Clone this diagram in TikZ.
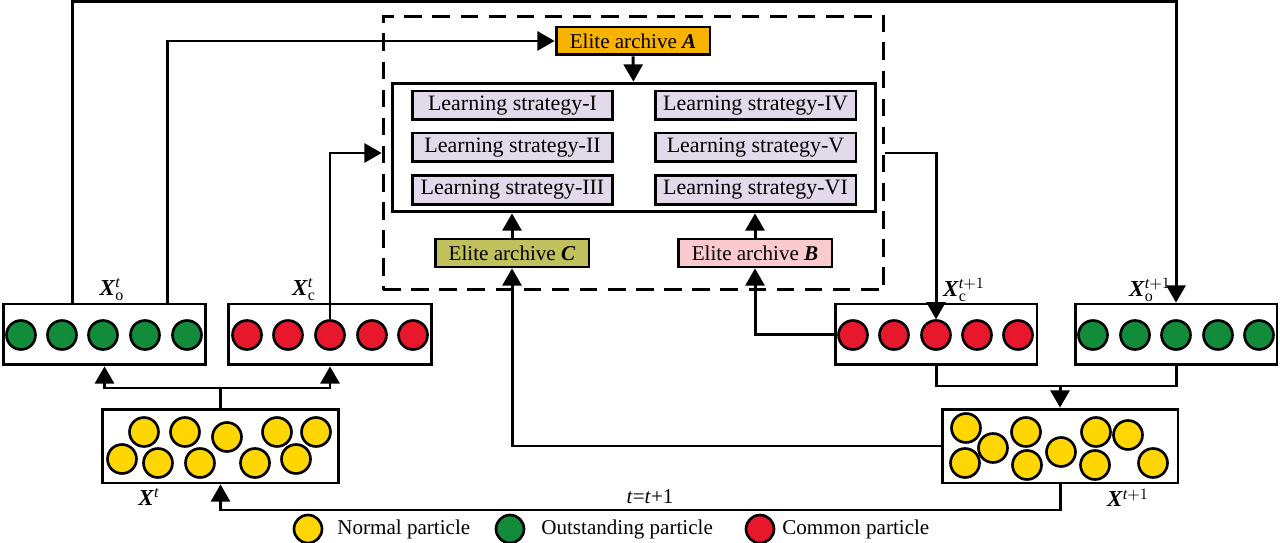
\documentclass[tikz,border=0pt]{standalone}
\usepackage{fontspec}
\setmainfont{Liberation Serif}
\usepackage{amsmath}
\usepackage{tikz}
\usetikzlibrary{arrows}
\definecolor{normal}{RGB}{255,214,0}
\definecolor{outstanding}{RGB}{18,140,58}
\definecolor{common}{RGB}{232,24,44}
\definecolor{archA}{RGB}{248,178,0}
\definecolor{archB}{RGB}{250,202,206}
\definecolor{archC}{RGB}{192,192,92}
\definecolor{strat}{RGB}{226,218,234}

\begin{document}
\begin{tikzpicture}[x=0.02cm, y=-0.02cm, >=triangle 60]
\tikzstyle{every node}=[font=\fontsize{12}{14}\selectfont];
\tikzstyle{every path}=[line width=1.7pt];
\tikzstyle{box}=[draw, fill=white, inner sep=0pt];
\tikzstyle{elite}=[draw, minimum width=3.08cm, minimum height=0.56cm, inner sep=0pt];
\tikzstyle{strat}=[draw, fill=strat, minimum width=4.02cm, minimum height=0.58cm, inner sep=0pt, font=\fontsize{12.5}{14}\selectfont];
\tikzstyle{ball}=[draw, circle, minimum size=0.58cm, inner sep=0pt, line width=1.5pt];
\tikzstyle{xlab}=[font=\fontsize{13}{15}\selectfont];
\useasboundingbox (0,0) rectangle (1280,543);
\node[draw, dash pattern=on 10pt off 6pt, minimum width=10.02cm, minimum height=5.48cm] (D) at (633.5,153) {};
\node[elite, fill=archA] (A) at (633,41) {Elite archive \textbf{\textit{A}}};
\node[draw, minimum width=9.68cm, minimum height=2.58cm] (L) at (634,147.5) {};
\node[strat] (L1) at (512.5,105.5) {Learning strategy-I};
\node[strat] (L2) at (512.5,147.5) {Learning strategy-II};
\node[strat] (L3) at (512.5,190) {Learning strategy-III};
\node[strat] (L4) at (755.5,105.5) {Learning strategy-IV};
\node[strat] (L5) at (755.5,147.5) {Learning strategy-V};
\node[strat] (L6) at (755.5,190) {Learning strategy-VI};
\node[elite, fill=archC] (C) at (512,253) {Elite archive \textbf{\textit{C}}};
\node[elite, fill=archB] (B) at (755,253) {Elite archive \textbf{\textit{B}}};
\node[box, minimum width=4.06cm, minimum height=1.22cm] (Xo) at (104.5,334.5) {};
\node[box, minimum width=4.08cm, minimum height=1.22cm] (Xc) at (330,334.5) {};
\node[box, minimum width=4.04cm, minimum height=1.22cm] (Xc1) at (936,334.5) {};
\node[box, minimum width=4.04cm, minimum height=1.22cm] (Xo1) at (1176,334.5) {};
\node[box, minimum width=4.74cm, minimum height=1.48cm] (X) at (220.5,446) {};
\node[box, minimum width=4.72cm, minimum height=1.48cm] (X1) at (1060,446) {};
\foreach \px [count=\i] in {21,62,103,145,187}
  \node[ball, fill=outstanding] (o\i) at (\px,335) {};
\foreach \px [count=\i] in {247,288,330,372,413}
  \node[ball, fill=common] (c\i) at (\px,335) {};
\foreach \px [count=\i] in {853,894,936,977,1018}
  \node[ball, fill=common] (cn\i) at (\px,335) {};
\foreach \px [count=\i] in {1093,1135,1176,1218,1259}
  \node[ball, fill=outstanding] (on\i) at (\px,335) {};
\foreach \px/\py [count=\i] in {144/432,185/432,227/437,277/432,316/432,122/459,158/463,200/463,255/463,296/459}
  \node[ball, fill=normal] (p\i) at (\px,\py) {};
\foreach \px/\py [count=\i] in {966/428,993/448,1026/432,965/463,1027/465,1061/452,1096/432,1128/435,1095/465,1153/463}
  \node[ball, fill=normal] (pn\i) at (\px,\py) {};
\node[xlab] (lo) at (112,290) {\textbf{\textit{X}}$^{\textit{t}}_{\textrm{o}}$};
\node[xlab] (lc) at (304,290) {\textbf{\textit{X}}$^{\textit{t}}_{\textrm{c}}$};
\node[xlab] (lc1) at (964,290) {\textbf{\textit{X}}$^{\textit{t}+1}_{\textrm{c}}$};
\node[xlab] (lo1) at (1150,290) {\textbf{\textit{X}}$^{\textit{t}+1}_{\textrm{o}}$};
\node[xlab] (lx) at (149,497) {\textbf{\textit{X}}$^{\textit{t}}$};
\node[xlab] (lx1) at (1128,498) {\textbf{\textit{X}}$^{\textit{t}+1}$};
\node (lt) at (650,497) {\textit{t}=\textit{t}+1};
\coordinate (top) at (640,2);
\coordinate (J1) at (220.5,388);
\coordinate (J2) at (1060,386);
\coordinate (J3) at (640,510);
\draw[->] ([xshift=-0.65cm]Xo.north) |- (top -| Xo1.north) -- (Xo1.north);
\draw[->] ([xshift=1.27cm]Xo.north) |- (A.west);
\draw[->] (A) -- (L);
\draw[->] (C) -- (C |- L.south);
\draw[->] (B) -- (B |- L.south);
\draw[->] (c3.north) |- (D.west);
\draw[->] (D.east) -| (cn3.north);
\draw[->] (X1.west) -| (C.south);
\draw[->] (Xc1.west) -| (B.south);
\draw (X.north) -- (J1);
\draw[->] (J1) -| (Xo.south);
\draw[->] (J1) -| (Xc.south);
\draw (Xc1.south) |- (J2) -| (Xo1.south);
\draw[->] (J2) -- (X1.north);
\draw[->] (X1.south) |- (J3) -| (X.south);
\node[ball, fill=normal, minimum size=0.56cm] (k1) at (308,529) {};
\node[anchor=west] (t1) at (330,529) {Normal particle};
\node[ball, fill=outstanding, minimum size=0.56cm] (k2) at (510,529) {};
\node[anchor=west] (t2) at (534,529) {Outstanding particle};
\node[ball, fill=common, minimum size=0.56cm] (k3) at (760,529) {};
\node[anchor=west] (t3) at (775,529) {Common particle};
\end{tikzpicture}
\end{document}
